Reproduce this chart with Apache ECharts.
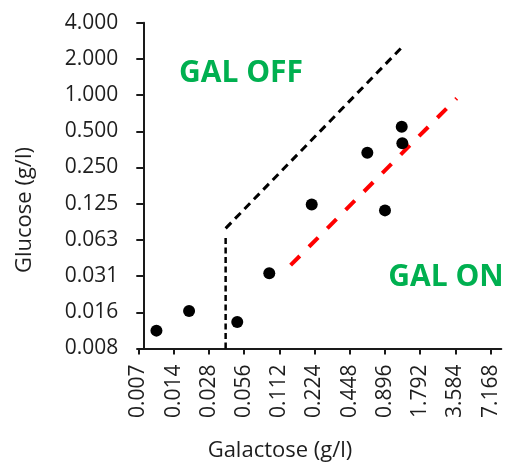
<!DOCTYPE html>
<html>
<head>
<meta charset="utf-8">
<script src="https://cdn.jsdelivr.net/npm/echarts@6/dist/echarts.min.js"></script>
<style>
  html, body { margin: 0; padding: 0; background: #fff; }
  #chart { width: 508px; height: 467px; }
</style>
</head>
<body>
<div id="chart"></div>
<script>
// Both axes are base-2 logarithmic; each step on an axis doubles the value.
const X_BASE = 0.007;      // galactose at the first x tick (g/l)
const Y_BASE = 0.0078125;  // glucose at the first y tick (g/l)

const xTickLabels = ['0.007', '0.014', '0.028', '0.056', '0.112', '0.224', '0.448', '0.896', '1.792', '3.584', '7.168'];
const yTickLabels = ['0.008', '0.016', '0.031', '0.063', '0.125', '0.250', '0.500', '1.000', '2.000', '4.000'];

// Measured strains: galactose vs glucose concentration (g/l)
const galactose = [0.010, 0.019, 0.049, 0.092, 0.212, 0.633, 0.896, 1.245, 1.260];
const glucose   = [0.011, 0.016, 0.013, 0.033, 0.123, 0.331, 0.110, 0.545, 0.397];

// GAL OFF boundary (diagonal) and its low-glucose cutoff (vertical)
const offBoundaryGal = [0.039, 1.245];
const offBoundaryGlc = [0.078, 2.49];
const offCutoffGal   = [0.039, 0.039];
const offCutoffGlc   = [0.0078125, 0.066];

// GAL ON boundary
const onBoundaryGal = [0.140, 3.67];
const onBoundaryGlc = [0.0385, 0.94];

const toX = v => Math.log2(v / X_BASE);
const toY = v => Math.log2(v / Y_BASE);
const pairs = (xs, ys) => xs.map((x, i) => [toX(x), toY(ys[i])]);

const FONT = '"Open Sans", "Noto Sans", sans-serif';
const TEXT = '#1e1e1e';

const chart = echarts.init(document.getElementById('chart'), null, { renderer: 'canvas' });

chart.setOption({
  animation: false,
  backgroundColor: '#ffffff',
  grid: { left: 138.3, right: 6.7, top: 22.7, bottom: 118.5, containLabel: false },
  xAxis: {
    type: 'value',
    min: 0,
    max: 10.3,
    splitLine: { show: false },
    axisLine: { show: true, lineStyle: { color: '#1a1a1a', width: 2 } },
    axisTick: {
      show: true, inside: false, length: 6,
      customValues: xTickLabels.map((_, i) => i),
      lineStyle: { color: '#1a1a1a', width: 2 }
    },
    axisLabel: {
      rotate: 90,
      margin: 16,
      customValues: xTickLabels.map((_, i) => i),
      formatter: v => xTickLabels[Math.round(v)] || '',
      fontFamily: FONT, fontSize: 21, color: TEXT
    }
  },
  yAxis: {
    type: 'value',
    min: 0,
    max: 9,
    interval: 1,
    offset: -5,
    splitLine: { show: false },
    axisLine: { show: true, onZero: false, lineStyle: { color: '#1a1a1a', width: 2 } },
    axisTick: { show: true, inside: false, length: 7, lineStyle: { color: '#1a1a1a', width: 2 } },
    axisLabel: {
      margin: 25,
      formatter: v => yTickLabels[Math.round(v)] || '',
      fontFamily: FONT, fontSize: 21, color: TEXT
    }
  },
  series: [
    {
      name: 'GAL OFF cutoff',
      type: 'line',
      data: pairs(offCutoffGal, offCutoffGlc),
      symbol: 'none',
      lineStyle: { color: '#000', width: 2.5, type: [6, 3.5] },
      z: 2
    },
    {
      name: 'GAL OFF boundary',
      type: 'line',
      data: pairs(offBoundaryGal, offBoundaryGlc),
      symbol: 'none',
      lineStyle: { color: '#000', width: 3, type: [8, 5.5] },
      z: 2
    },
    {
      name: 'GAL ON boundary',
      type: 'line',
      data: pairs(onBoundaryGal, onBoundaryGlc),
      symbol: 'none',
      lineStyle: { color: '#ff0000', width: 4, type: [13, 13] },
      z: 2
    },
    {
      name: 'Strains',
      type: 'scatter',
      data: pairs(galactose, glucose),
      symbol: 'circle',
      symbolSize: 12,
      itemStyle: { color: '#000', opacity: 1 },
      z: 3
    }
  ],
  graphic: [
    {
      type: 'text', x: 241, y: 73, z: 10,
      style: { text: 'GAL OFF', font: 'bold 30px ' + FONT, fill: '#00b050', align: 'center', verticalAlign: 'middle' }
    },
    {
      type: 'text', x: 446, y: 277, z: 10,
      style: { text: 'GAL ON', font: 'bold 30px ' + FONT, fill: '#00b050', align: 'center', verticalAlign: 'middle' }
    },
    {
      type: 'text', x: 280, y: 451, z: 10,
      style: { text: 'Galactose (g/l)', font: '22px ' + FONT, fill: TEXT, align: 'center', verticalAlign: 'middle' }
    },
    {
      type: 'text', x: 25, y: 210, rotation: Math.PI / 2, z: 10,
      style: { text: 'Glucose (g/l)', font: '22px ' + FONT, fill: TEXT, align: 'center', verticalAlign: 'middle' }
    }
  ]
});
</script>
</body>
</html>
